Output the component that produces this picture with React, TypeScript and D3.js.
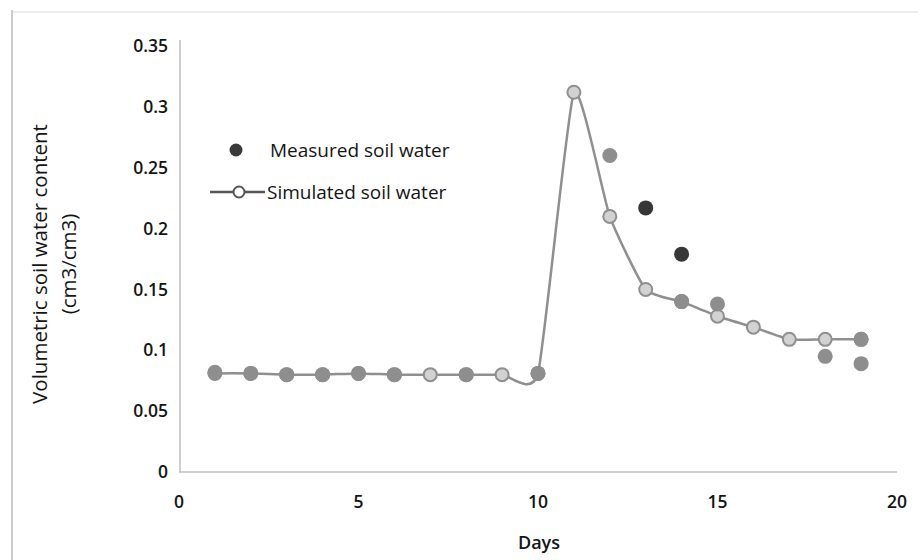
import React from "react";
import * as d3 from "d3";

const simDays = [1, 2, 3, 4, 5, 6, 7, 8, 9, 10, 11, 12, 13, 14, 15, 16, 17, 18, 19];
const simValues = [0.081, 0.081, 0.08, 0.08, 0.081, 0.08, 0.08, 0.08, 0.08, 0.081, 0.312, 0.21, 0.15, 0.14, 0.128, 0.119, 0.109, 0.109, 0.109];

const measGrayDays = [1, 2, 3, 4, 5, 6, 8, 10, 12, 14, 15, 18, 19, 19];
const measGrayValues = [0.082, 0.081, 0.08, 0.08, 0.081, 0.08, 0.08, 0.081, 0.26, 0.14, 0.138, 0.095, 0.109, 0.089];

const measDarkDays = [13, 14];
const measDarkValues = [0.217, 0.179];

const xTicks = [0, 5, 10, 15, 20];
const yTicks = [0, 0.05, 0.1, 0.15, 0.2, 0.25, 0.3, 0.35];

const FONT = "'Open Sans', sans-serif";
const INK = "#141414";

export default function App() {
  const W = 922, H = 560;
  const left = 179, right = 897, top = 46, bottom = 472;
  const x = d3.scaleLinear().domain([0, 20]).range([left, right]);
  const y = d3.scaleLinear().domain([0, 0.35]).range([bottom, top]);
  const line = d3
    .line<number>()
    .x((_, i) => x(simDays[i]))
    .y((d) => y(d))
    .curve(d3.curveCardinal.tension(0.5));

  return (
    <svg width={W} height={H} style={{ position: "absolute", left: 0, top: 0, background: "#fff" }}>
      <rect x={0} y={0} width={W} height={H} fill="#fff" />
      {/* frame */}
      <line x1={12} y1={12} x2={918} y2={12} stroke="#e6e6e6" strokeWidth={1.5} />
      <line x1={12} y1={10} x2={12} y2={560} stroke="#bdbdbd" strokeWidth={1.5} />
      {/* axes */}
      <line x1={left + 1} y1={top - 6} x2={left + 1} y2={bottom} stroke="#bfbfbf" strokeWidth={1.5} />
      <line x1={left} y1={bottom} x2={right} y2={bottom} stroke="#bfbfbf" strokeWidth={1.5} />
      {yTicks.map((t) => (
        <text key={t} x={168} y={y(t)} dy="0.35em" textAnchor="end" fontFamily={FONT} fontSize={17.5} fontWeight={600} fill={INK}>
          {t === 0 ? "0" : String(t)}
        </text>
      ))}
      {xTicks.map((t) => (
        <text key={t} x={x(t)} y={502} dy="0.35em" textAnchor="middle" fontFamily={FONT} fontSize={17.5} fontWeight={600} fill={INK}>
          {t}
        </text>
      ))}
      <text x={539} y={543} dy="0.35em" textAnchor="middle" fontFamily={FONT} fontSize={18} fontWeight={600} fill={INK}>
        Days
      </text>
      <g transform="translate(40,264) rotate(-90)">
        <text x={0} y={0} dy="0.35em" textAnchor="middle" fontFamily={FONT} fontSize={20.5} fontWeight={500} fill={INK}>
          Volumetric soil water content
        </text>
        <text x={0} y={29} dy="0.35em" textAnchor="middle" fontFamily={FONT} fontSize={20.5} fontWeight={500} fill={INK}>
          (cm3/cm3)
        </text>
      </g>
      {/* simulated line */}
      <path d={line(simValues) || ""} fill="none" stroke="#8f8f8f" strokeWidth={2.5} />
      {simValues.map((v, i) => (
        <circle key={"s" + i} cx={x(simDays[i])} cy={y(v)} r={6.5} fill="#d2d2d2" stroke="#8f8f8f" strokeWidth={2} />
      ))}
      {measGrayValues.map((v, i) => (
        <circle key={"g" + i} cx={x(measGrayDays[i])} cy={y(v)} r={7.5} fill="#8e8e8e" />
      ))}
      {measDarkValues.map((v, i) => (
        <circle key={"d" + i} cx={x(measDarkDays[i])} cy={y(v)} r={7.5} fill="#373737" />
      ))}
      {/* legend */}
      <circle cx={236} cy={150} r={6.5} fill="#3a3a3a" />
      <text x={270} y={150} dy="0.35em" fontFamily={FONT} fontSize={19} fontWeight={500} fill={INK}>
        Measured soil water
      </text>
      <line x1={210} y1={192} x2={265} y2={192} stroke="#555" strokeWidth={2.5} />
      <circle cx={239} cy={192} r={5.5} fill="#fff" stroke="#555" strokeWidth={2} />
      <text x={267} y={192} dy="0.35em" fontFamily={FONT} fontSize={19} fontWeight={500} fill={INK}>
        Simulated soil water
      </text>
    </svg>
  );
}
